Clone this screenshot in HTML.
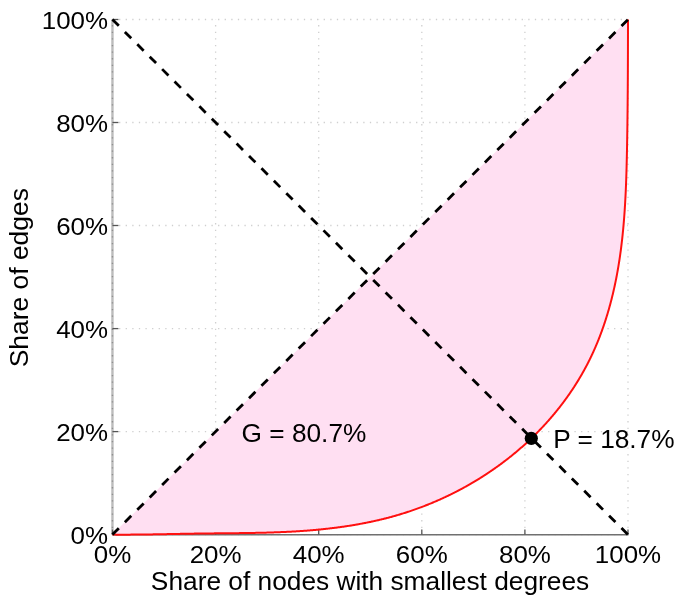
<!DOCTYPE html>
<html><head><meta charset="utf-8"><style>
html,body{margin:0;padding:0;background:#fff;}
svg{display:block;will-change:transform;}
text{font-family:"Liberation Sans",sans-serif;font-size:24px;fill:#000;}
</style></head><body>
<svg width="683" height="600" viewBox="0 0 683 600">
<rect width="683" height="600" fill="#fff"/>
<g stroke="#cfcfcf" stroke-width="1.3" stroke-dasharray="1.3,5.3" fill="none">
<line x1="112.5" y1="534.6" x2="112.5" y2="19.5"/><line x1="112.45" y1="534.6" x2="628.0" y2="534.6"/><line x1="215.6" y1="534.6" x2="215.6" y2="19.5"/><line x1="112.45" y1="431.6" x2="628.0" y2="431.6"/><line x1="318.7" y1="534.6" x2="318.7" y2="19.5"/><line x1="112.45" y1="328.6" x2="628.0" y2="328.6"/><line x1="421.8" y1="534.6" x2="421.8" y2="19.5"/><line x1="112.45" y1="225.5" x2="628.0" y2="225.5"/><line x1="524.9" y1="534.6" x2="524.9" y2="19.5"/><line x1="112.45" y1="122.5" x2="628.0" y2="122.5"/><line x1="628.0" y1="534.6" x2="628.0" y2="19.5"/><line x1="112.45" y1="19.5" x2="628.0" y2="19.5"/>
</g>
<line x1="112.45" y1="534.6" x2="112.45" y2="19.5" stroke="#bcbcbc" stroke-width="2.4"/>
<line x1="112.45" y1="534.6" x2="112.45" y2="19.5" stroke="#909090" stroke-width="1.3" stroke-dasharray="1.3,5.3"/>
<line x1="112.45" y1="534.75" x2="628.5" y2="534.75" stroke="#707070" stroke-width="1.5"/>
<g stroke="#555" stroke-width="1.3"><line x1="112.5" y1="534.6" x2="112.5" y2="529.6"/><line x1="112.45" y1="534.6" x2="118.45" y2="534.6"/><line x1="215.6" y1="534.6" x2="215.6" y2="529.6"/><line x1="112.45" y1="431.6" x2="118.45" y2="431.6"/><line x1="318.7" y1="534.6" x2="318.7" y2="529.6"/><line x1="112.45" y1="328.6" x2="118.45" y2="328.6"/><line x1="421.8" y1="534.6" x2="421.8" y2="529.6"/><line x1="112.45" y1="225.5" x2="118.45" y2="225.5"/><line x1="524.9" y1="534.6" x2="524.9" y2="529.6"/><line x1="112.45" y1="122.5" x2="118.45" y2="122.5"/><line x1="628.0" y1="534.6" x2="628.0" y2="529.6"/><line x1="112.45" y1="19.5" x2="118.45" y2="19.5"/></g>
<path d="M112.45,534.60 L113.19,534.61 L113.93,534.61 L114.67,534.62 L115.41,534.62 L116.15,534.63 L116.89,534.63 L117.63,534.64 L118.37,534.64 L119.11,534.64 L119.84,534.64 L120.58,534.64 L121.32,534.65 L122.06,534.65 L122.80,534.65 L123.54,534.65 L124.28,534.65 L125.02,534.65 L125.76,534.64 L126.50,534.64 L127.24,534.64 L127.97,534.64 L128.71,534.64 L129.45,534.63 L130.19,534.63 L130.93,534.62 L131.67,534.62 L132.41,534.62 L133.15,534.61 L133.89,534.61 L134.62,534.60 L135.36,534.59 L136.10,534.59 L136.84,534.58 L137.58,534.57 L138.32,534.57 L139.06,534.56 L139.79,534.55 L140.53,534.54 L141.27,534.54 L142.01,534.53 L142.75,534.52 L143.49,534.51 L144.23,534.50 L144.96,534.49 L145.70,534.48 L146.44,534.47 L147.18,534.46 L147.92,534.45 L148.66,534.44 L149.40,534.43 L150.13,534.42 L150.87,534.40 L151.61,534.39 L152.35,534.38 L153.09,534.37 L153.83,534.36 L154.56,534.35 L155.30,534.33 L156.04,534.32 L156.78,534.31 L157.52,534.30 L158.26,534.28 L158.99,534.27 L159.73,534.26 L160.47,534.24 L161.21,534.23 L161.95,534.22 L162.69,534.20 L163.42,534.19 L164.16,534.18 L164.90,534.16 L165.64,534.15 L166.38,534.13 L167.12,534.12 L167.85,534.11 L168.59,534.09 L169.33,534.08 L170.07,534.06 L170.81,534.05 L171.55,534.04 L172.28,534.02 L173.02,534.01 L173.76,533.99 L174.50,533.98 L175.24,533.96 L175.98,533.95 L176.72,533.94 L177.45,533.92 L178.19,533.91 L178.93,533.89 L179.67,533.88 L180.41,533.87 L181.15,533.85 L181.88,533.84 L182.62,533.82 L183.36,533.81 L184.10,533.80 L184.84,533.78 L185.58,533.77 L186.32,533.76 L187.05,533.74 L187.79,533.73 L188.53,533.72 L189.27,533.70 L190.01,533.69 L190.75,533.68 L191.49,533.67 L192.22,533.65 L192.96,533.64 L193.70,533.63 L194.44,533.62 L195.18,533.61 L195.92,533.60 L196.66,533.58 L197.40,533.57 L198.14,533.56 L198.87,533.55 L199.61,533.54 L200.35,533.53 L201.09,533.52 L201.83,533.51 L202.57,533.50 L203.31,533.49 L204.05,533.48 L204.79,533.48 L205.53,533.47 L206.27,533.46 L207.00,533.45 L207.74,533.44 L208.48,533.43 L209.22,533.42 L209.96,533.42 L210.70,533.41 L211.44,533.40 L212.18,533.39 L212.92,533.39 L213.66,533.38 L214.40,533.37 L215.14,533.36 L215.88,533.36 L216.62,533.35 L217.35,533.34 L218.09,533.34 L218.83,533.33 L219.57,533.32 L220.31,533.32 L221.05,533.31 L221.79,533.30 L222.53,533.30 L223.27,533.29 L224.01,533.28 L224.75,533.28 L225.49,533.27 L226.23,533.26 L226.97,533.25 L227.71,533.25 L228.45,533.24 L229.19,533.23 L229.93,533.23 L230.67,533.22 L231.41,533.21 L232.15,533.20 L232.89,533.20 L233.63,533.19 L234.36,533.18 L235.10,533.17 L235.84,533.16 L236.58,533.16 L237.32,533.15 L238.06,533.14 L238.80,533.13 L239.54,533.12 L240.28,533.11 L241.02,533.10 L241.76,533.09 L242.50,533.08 L243.24,533.07 L243.98,533.06 L244.72,533.05 L245.46,533.04 L246.20,533.03 L246.94,533.02 L247.68,533.01 L248.42,533.00 L249.16,532.99 L249.90,532.98 L250.64,532.96 L251.38,532.95 L252.12,532.94 L252.86,532.92 L253.59,532.91 L254.33,532.90 L255.07,532.88 L255.81,532.87 L256.55,532.85 L257.29,532.84 L258.03,532.82 L258.77,532.81 L259.51,532.79 L260.25,532.77 L260.99,532.76 L261.73,532.74 L262.47,532.72 L263.21,532.70 L263.95,532.68 L264.69,532.67 L265.43,532.65 L266.17,532.63 L266.90,532.61 L267.64,532.58 L268.38,532.56 L269.12,532.54 L269.86,532.52 L270.60,532.50 L271.34,532.47 L272.08,532.45 L272.82,532.42 L273.56,532.40 L274.30,532.37 L275.04,532.35 L275.77,532.32 L276.51,532.30 L277.25,532.27 L277.99,532.24 L278.73,532.21 L279.47,532.18 L280.21,532.15 L280.95,532.12 L281.69,532.09 L282.42,532.06 L283.16,532.03 L283.90,531.99 L284.64,531.96 L285.38,531.93 L286.12,531.89 L286.86,531.86 L287.60,531.82 L288.33,531.78 L289.07,531.75 L289.81,531.71 L290.55,531.67 L291.29,531.63 L292.03,531.59 L292.76,531.55 L293.50,531.51 L294.24,531.46 L294.98,531.42 L295.72,531.38 L296.46,531.33 L297.19,531.29 L297.93,531.24 L298.67,531.20 L299.41,531.15 L300.15,531.10 L300.88,531.05 L301.62,531.00 L302.36,530.95 L303.10,530.90 L303.83,530.84 L304.57,530.79 L305.31,530.74 L306.05,530.68 L306.78,530.63 L307.52,530.57 L308.26,530.51 L309.00,530.45 L309.73,530.40 L310.47,530.34 L311.21,530.27 L311.94,530.21 L312.68,530.15 L313.42,530.09 L314.16,530.02 L314.89,529.96 L315.63,529.89 L316.36,529.82 L317.10,529.75 L317.84,529.69 L318.57,529.62 L319.31,529.54 L320.05,529.47 L320.78,529.40 L321.52,529.33 L322.25,529.25 L322.99,529.18 L323.72,529.10 L324.46,529.02 L325.19,528.94 L325.93,528.86 L326.66,528.78 L327.40,528.70 L328.13,528.62 L328.87,528.53 L329.60,528.45 L330.33,528.36 L331.07,528.28 L331.80,528.19 L332.53,528.10 L333.27,528.01 L334.00,527.92 L334.73,527.83 L335.47,527.73 L336.20,527.64 L336.93,527.55 L337.66,527.45 L338.40,527.35 L339.13,527.25 L339.86,527.15 L340.59,527.05 L341.32,526.95 L342.06,526.85 L342.79,526.74 L343.52,526.64 L344.25,526.53 L344.98,526.43 L345.71,526.32 L346.44,526.21 L347.17,526.10 L347.90,525.98 L348.63,525.87 L349.36,525.76 L350.08,525.64 L350.81,525.52 L351.54,525.41 L352.27,525.29 L353.00,525.17 L353.73,525.04 L354.45,524.92 L355.18,524.80 L355.91,524.67 L356.63,524.55 L357.36,524.42 L358.09,524.29 L358.81,524.16 L359.54,524.03 L360.26,523.89 L360.99,523.76 L361.71,523.63 L362.44,523.49 L363.16,523.35 L363.89,523.21 L364.61,523.07 L365.33,522.93 L366.06,522.79 L366.78,522.64 L367.50,522.50 L368.23,522.35 L368.95,522.20 L369.67,522.05 L370.39,521.90 L371.11,521.75 L371.83,521.59 L372.55,521.44 L373.27,521.28 L373.99,521.12 L374.71,520.96 L375.43,520.80 L376.15,520.64 L376.87,520.48 L377.59,520.31 L378.31,520.15 L379.02,519.98 L379.74,519.81 L380.46,519.64 L381.17,519.47 L381.89,519.29 L382.61,519.12 L383.32,518.94 L384.04,518.77 L384.75,518.59 L385.47,518.41 L386.18,518.22 L386.90,518.04 L387.61,517.85 L388.32,517.67 L389.03,517.48 L389.75,517.29 L390.46,517.10 L391.17,516.91 L391.88,516.71 L392.59,516.52 L393.30,516.32 L394.01,516.12 L394.72,515.92 L395.43,515.72 L396.14,515.52 L396.85,515.31 L397.56,515.10 L398.26,514.90 L398.97,514.69 L399.68,514.48 L400.38,514.26 L401.09,514.05 L401.80,513.83 L402.50,513.61 L403.20,513.40 L403.91,513.17 L404.61,512.95 L405.32,512.73 L406.02,512.50 L406.72,512.28 L407.42,512.05 L408.12,511.82 L408.83,511.59 L409.53,511.35 L410.23,511.12 L410.93,510.88 L411.63,510.64 L412.32,510.40 L413.02,510.16 L413.72,509.92 L414.42,509.67 L415.11,509.43 L415.81,509.18 L416.51,508.93 L417.20,508.68 L417.89,508.43 L418.59,508.18 L419.28,507.92 L419.98,507.66 L420.67,507.41 L421.36,507.15 L422.05,506.88 L422.74,506.62 L423.43,506.36 L424.12,506.09 L424.81,505.82 L425.50,505.55 L426.19,505.28 L426.88,505.01 L427.56,504.74 L428.25,504.46 L428.94,504.19 L429.62,503.91 L430.31,503.63 L430.99,503.35 L431.67,503.06 L432.36,502.78 L433.04,502.49 L433.72,502.20 L434.40,501.92 L435.08,501.63 L435.76,501.33 L436.44,501.04 L437.12,500.74 L437.80,500.45 L438.47,500.15 L439.15,499.85 L439.83,499.55 L440.50,499.25 L441.18,498.94 L441.85,498.64 L442.52,498.33 L443.20,498.02 L443.87,497.71 L444.54,497.40 L445.21,497.09 L445.88,496.77 L446.55,496.46 L447.22,496.14 L447.89,495.82 L448.55,495.50 L449.22,495.18 L449.88,494.85 L450.55,494.53 L451.21,494.20 L451.88,493.87 L452.54,493.54 L453.20,493.21 L453.86,492.88 L454.53,492.55 L455.19,492.21 L455.84,491.87 L456.50,491.54 L457.16,491.20 L457.82,490.85 L458.47,490.51 L459.13,490.17 L459.78,489.82 L460.44,489.47 L461.09,489.13 L461.74,488.78 L462.40,488.42 L463.05,488.07 L463.70,487.72 L464.35,487.36 L464.99,487.00 L465.64,486.64 L466.29,486.28 L466.93,485.92 L467.58,485.56 L468.22,485.19 L468.87,484.83 L469.51,484.46 L470.15,484.09 L470.79,483.72 L471.43,483.35 L472.07,482.98 L472.71,482.60 L473.35,482.23 L473.99,481.85 L474.62,481.47 L475.26,481.09 L475.89,480.71 L476.53,480.32 L477.16,479.94 L477.79,479.55 L478.42,479.17 L479.05,478.78 L479.68,478.39 L480.31,477.99 L480.93,477.60 L481.56,477.21 L482.19,476.81 L482.81,476.41 L483.43,476.01 L484.06,475.61 L484.68,475.21 L485.30,474.81 L485.92,474.40 L486.54,474.00 L487.16,473.59 L487.77,473.18 L488.39,472.77 L489.00,472.36 L489.62,471.95 L490.23,471.53 L490.84,471.12 L491.46,470.70 L492.07,470.28 L492.68,469.86 L493.28,469.44 L493.89,469.02 L494.50,468.59 L495.10,468.17 L495.71,467.74 L496.31,467.31 L496.91,466.88 L497.51,466.45 L498.11,466.02 L498.71,465.59 L499.31,465.15 L499.91,464.72 L500.51,464.28 L501.10,463.84 L501.70,463.40 L502.29,462.96 L502.88,462.51 L503.47,462.07 L504.06,461.62 L504.65,461.17 L505.24,460.73 L505.83,460.28 L506.41,459.82 L507.00,459.37 L507.58,458.92 L508.16,458.46 L508.74,458.00 L509.33,457.55 L509.90,457.09 L510.48,456.63 L511.06,456.16 L511.64,455.70 L512.21,455.23 L512.78,454.77 L513.36,454.30 L513.93,453.83 L514.50,453.36 L515.07,452.89 L515.64,452.42 L516.20,451.94 L516.77,451.47 L517.34,450.99 L517.90,450.51 L518.46,450.03 L519.02,449.55 L519.58,449.07 L520.14,448.59 L520.70,448.10 L521.26,447.61 L521.81,447.13 L522.37,446.64 L522.92,446.15 L523.47,445.66 L524.02,445.16 L524.57,444.67 L525.12,444.17 L525.67,443.68 L526.21,443.18 L526.76,442.68 L527.30,442.18 L527.84,441.68 L528.38,441.17 L528.92,440.67 L529.46,440.16 L530.00,439.66 L530.54,439.15 L531.07,438.64 L531.61,438.13 L532.14,437.61 L532.67,437.10 L533.20,436.59 L533.73,436.07 L534.25,435.55 L534.78,435.03 L535.31,434.51 L535.83,433.99 L536.35,433.47 L536.87,432.95 L537.39,432.42 L537.91,431.89 L538.43,431.37 L538.94,430.84 L539.46,430.31 L539.97,429.78 L540.48,429.24 L540.99,428.71 L541.50,428.17 L542.01,427.64 L542.52,427.10 L543.02,426.56 L543.53,426.02 L544.03,425.48 L544.53,424.94 L545.03,424.39 L545.53,423.85 L546.02,423.30 L546.52,422.75 L547.01,422.20 L547.51,421.65 L548.00,421.10 L548.49,420.55 L548.98,420.00 L549.46,419.44 L549.95,418.88 L550.43,418.33 L550.92,417.77 L551.40,417.21 L551.88,416.65 L552.36,416.08 L552.84,415.52 L553.31,414.96 L553.79,414.39 L554.26,413.82 L554.73,413.25 L555.20,412.68 L555.67,412.11 L556.14,411.54 L556.60,410.97 L557.07,410.40 L557.53,409.82 L557.99,409.24 L558.45,408.67 L558.91,408.09 L559.37,407.51 L559.82,406.93 L560.28,406.34 L560.73,405.76 L561.18,405.17 L561.63,404.59 L562.08,404.00 L562.52,403.41 L562.97,402.82 L563.41,402.23 L563.85,401.64 L564.29,401.05 L564.73,400.46 L565.17,399.86 L565.60,399.27 L566.04,398.67 L566.47,398.07 L566.90,397.47 L567.33,396.87 L567.76,396.27 L568.18,395.67 L568.61,395.06 L569.03,394.46 L569.45,393.85 L569.87,393.24 L570.29,392.64 L570.70,392.03 L571.12,391.42 L571.53,390.81 L571.94,390.19 L572.35,389.58 L572.76,388.96 L573.17,388.35 L573.57,387.73 L573.97,387.11 L574.38,386.50 L574.77,385.88 L575.17,385.25 L575.57,384.63 L575.96,384.01 L576.36,383.38 L576.75,382.76 L577.14,382.13 L577.53,381.51 L577.91,380.88 L578.30,380.25 L578.68,379.62 L579.06,378.99 L579.44,378.35 L579.82,377.72 L580.19,377.09 L580.57,376.45 L580.94,375.81 L581.31,375.18 L581.68,374.54 L582.05,373.90 L582.41,373.26 L582.78,372.62 L583.14,371.97 L583.50,371.33 L583.86,370.68 L584.21,370.04 L584.57,369.39 L584.92,368.74 L585.27,368.10 L585.62,367.45 L585.97,366.80 L586.31,366.14 L586.66,365.49 L587.00,364.84 L587.34,364.18 L587.68,363.53 L588.02,362.87 L588.35,362.21 L588.68,361.56 L589.01,360.90 L589.34,360.24 L589.67,359.58 L590.00,358.91 L590.32,358.25 L590.64,357.59 L590.96,356.92 L591.28,356.26 L591.60,355.59 L591.91,354.92 L592.22,354.25 L592.53,353.58 L592.84,352.91 L593.15,352.24 L593.46,351.57 L593.76,350.90 L594.06,350.22 L594.36,349.55 L594.66,348.87 L594.96,348.20 L595.25,347.52 L595.54,346.84 L595.83,346.16 L596.12,345.48 L596.41,344.80 L596.70,344.12 L596.98,343.44 L597.26,342.76 L597.54,342.07 L597.82,341.39 L598.10,340.71 L598.38,340.02 L598.65,339.33 L598.92,338.65 L599.19,337.96 L599.46,337.27 L599.73,336.58 L599.99,335.89 L600.25,335.20 L600.52,334.51 L600.78,333.82 L601.03,333.12 L601.29,332.43 L601.55,331.73 L601.80,331.04 L602.05,330.34 L602.30,329.65 L602.55,328.95 L602.80,328.25 L603.04,327.55 L603.29,326.86 L603.53,326.16 L603.77,325.46 L604.01,324.76 L604.24,324.05 L604.48,323.35 L604.71,322.65 L604.94,321.95 L605.17,321.24 L605.40,320.54 L605.63,319.83 L605.86,319.13 L606.08,318.42 L606.30,317.72 L606.52,317.01 L606.74,316.30 L606.96,315.59 L607.18,314.89 L607.39,314.18 L607.61,313.47 L607.82,312.76 L608.03,312.05 L608.24,311.34 L608.44,310.63 L608.65,309.91 L608.85,309.20 L609.06,308.49 L609.26,307.78 L609.46,307.06 L609.65,306.35 L609.85,305.63 L610.04,304.92 L610.24,304.20 L610.43,303.49 L610.62,302.77 L610.81,302.05 L611.00,301.34 L611.18,300.62 L611.37,299.90 L611.55,299.18 L611.73,298.47 L611.91,297.75 L612.09,297.03 L612.27,296.31 L612.45,295.59 L612.62,294.87 L612.79,294.15 L612.96,293.43 L613.13,292.71 L613.30,291.99 L613.47,291.26 L613.64,290.54 L613.80,289.82 L613.96,289.10 L614.13,288.37 L614.29,287.65 L614.45,286.93 L614.60,286.20 L614.76,285.48 L614.92,284.76 L615.07,284.03 L615.22,283.31 L615.37,282.58 L615.52,281.86 L615.67,281.13 L615.82,280.41 L615.96,279.68 L616.11,278.96 L616.25,278.23 L616.39,277.51 L616.53,276.78 L616.67,276.05 L616.81,275.33 L616.94,274.60 L617.08,273.87 L617.21,273.15 L617.35,272.42 L617.48,271.69 L617.61,270.97 L617.74,270.24 L617.86,269.51 L617.99,268.78 L618.12,268.05 L618.24,267.33 L618.36,266.60 L618.48,265.87 L618.60,265.14 L618.72,264.41 L618.84,263.68 L618.96,262.95 L619.07,262.22 L619.19,261.49 L619.30,260.76 L619.41,260.03 L619.52,259.30 L619.63,258.57 L619.74,257.84 L619.85,257.11 L619.96,256.38 L620.06,255.65 L620.17,254.92 L620.27,254.19 L620.37,253.46 L620.47,252.73 L620.57,252.00 L620.67,251.27 L620.77,250.53 L620.86,249.80 L620.96,249.07 L621.06,248.34 L621.15,247.61 L621.24,246.87 L621.33,246.14 L621.42,245.41 L621.51,244.68 L621.60,243.94 L621.69,243.21 L621.77,242.48 L621.86,241.74 L621.94,241.01 L622.03,240.28 L622.11,239.54 L622.19,238.81 L622.27,238.08 L622.35,237.34 L622.43,236.61 L622.51,235.87 L622.59,235.14 L622.66,234.41 L622.74,233.67 L622.81,232.94 L622.88,232.20 L622.96,231.47 L623.03,230.73 L623.10,230.00 L623.17,229.26 L623.24,228.53 L623.30,227.79 L623.37,227.06 L623.44,226.32 L623.50,225.59 L623.57,224.85 L623.63,224.12 L623.69,223.38 L623.76,222.64 L623.82,221.91 L623.88,221.17 L623.94,220.44 L624.00,219.70 L624.05,218.96 L624.11,218.23 L624.17,217.49 L624.22,216.75 L624.28,216.02 L624.33,215.28 L624.39,214.54 L624.44,213.81 L624.49,213.07 L624.54,212.33 L624.60,211.59 L624.65,210.86 L624.69,210.12 L624.74,209.38 L624.79,208.65 L624.84,207.91 L624.88,207.17 L624.93,206.43 L624.98,205.70 L625.02,204.96 L625.06,204.22 L625.11,203.48 L625.15,202.74 L625.19,202.01 L625.23,201.27 L625.27,200.53 L625.31,199.79 L625.35,199.05 L625.39,198.32 L625.43,197.58 L625.47,196.84 L625.51,196.10 L625.54,195.36 L625.58,194.62 L625.62,193.88 L625.65,193.15 L625.69,192.41 L625.72,191.67 L625.75,190.93 L625.79,190.19 L625.82,189.45 L625.85,188.71 L625.88,187.97 L625.91,187.24 L625.94,186.50 L625.97,185.76 L626.00,185.02 L626.03,184.28 L626.06,183.54 L626.09,182.80 L626.12,182.06 L626.14,181.32 L626.17,180.58 L626.20,179.85 L626.22,179.11 L626.25,178.37 L626.27,177.63 L626.30,176.89 L626.32,176.15 L626.35,175.41 L626.37,174.67 L626.39,173.93 L626.42,173.19 L626.44,172.45 L626.46,171.71 L626.48,170.97 L626.50,170.23 L626.52,169.49 L626.54,168.76 L626.57,168.02 L626.59,167.28 L626.61,166.54 L626.62,165.80 L626.64,165.06 L626.66,164.32 L626.68,163.58 L626.70,162.84 L626.72,162.10 L626.74,161.36 L626.75,160.62 L626.77,159.88 L626.79,159.14 L626.81,158.40 L626.82,157.66 L626.84,156.92 L626.85,156.19 L626.87,155.45 L626.89,154.71 L626.90,153.97 L626.92,153.23 L626.93,152.49 L626.95,151.75 L626.96,151.01 L626.98,150.27 L626.99,149.53 L627.01,148.79 L627.02,148.05 L627.04,147.31 L627.05,146.58 L627.06,145.84 L627.08,145.10 L627.09,144.36 L627.10,143.62 L627.12,142.88 L627.13,142.14 L627.14,141.40 L627.16,140.66 L627.17,139.92 L627.18,139.19 L627.19,138.45 L627.21,137.71 L627.22,136.97 L627.23,136.23 L627.24,135.49 L627.25,134.75 L627.27,134.01 L627.28,133.28 L627.29,132.54 L627.30,131.80 L627.31,131.06 L627.32,130.32 L627.33,129.58 L627.34,128.84 L627.35,128.10 L627.37,127.37 L627.38,126.63 L627.39,125.89 L627.40,125.15 L627.41,124.41 L627.42,123.67 L627.43,122.93 L627.44,122.20 L627.45,121.46 L627.45,120.72 L627.46,119.98 L627.47,119.24 L627.48,118.50 L627.49,117.76 L627.50,117.03 L627.51,116.29 L627.52,115.55 L627.53,114.81 L627.53,114.07 L627.54,113.33 L627.55,112.60 L627.56,111.86 L627.57,111.12 L627.57,110.38 L627.58,109.64 L627.59,108.90 L627.60,108.16 L627.60,107.43 L627.61,106.69 L627.62,105.95 L627.63,105.21 L627.63,104.47 L627.64,103.73 L627.65,103.00 L627.65,102.26 L627.66,101.52 L627.67,100.78 L627.67,100.04 L627.68,99.30 L627.69,98.57 L627.69,97.83 L627.70,97.09 L627.70,96.35 L627.71,95.61 L627.72,94.87 L627.72,94.14 L627.73,93.40 L627.73,92.66 L627.74,91.92 L627.74,91.18 L627.75,90.44 L627.75,89.71 L627.76,88.97 L627.77,88.23 L627.77,87.49 L627.77,86.75 L627.78,86.01 L627.78,85.28 L627.79,84.54 L627.79,83.80 L627.80,83.06 L627.80,82.32 L627.81,81.58 L627.81,80.85 L627.82,80.11 L627.82,79.37 L627.82,78.63 L627.83,77.89 L627.83,77.15 L627.84,76.41 L627.84,75.68 L627.84,74.94 L627.85,74.20 L627.85,73.46 L627.85,72.72 L627.86,71.98 L627.86,71.25 L627.86,70.51 L627.87,69.77 L627.87,69.03 L627.87,68.29 L627.88,67.55 L627.88,66.81 L627.88,66.07 L627.89,65.34 L627.89,64.60 L627.89,63.86 L627.90,63.12 L627.90,62.38 L627.90,61.64 L627.90,60.90 L627.91,60.17 L627.91,59.43 L627.91,58.69 L627.91,57.95 L627.92,57.21 L627.92,56.47 L627.92,55.73 L627.92,54.99 L627.93,54.25 L627.93,53.52 L627.93,52.78 L627.93,52.04 L627.93,51.30 L627.94,50.56 L627.94,49.82 L627.94,49.08 L627.94,48.34 L627.94,47.60 L627.95,46.86 L627.95,46.13 L627.95,45.39 L627.95,44.65 L627.95,43.91 L627.96,43.17 L627.96,42.43 L627.96,41.69 L627.96,40.95 L627.96,40.21 L627.96,39.47 L627.97,38.73 L627.97,37.99 L627.97,37.25 L627.97,36.52 L627.97,35.78 L627.97,35.04 L627.97,34.30 L627.98,33.56 L627.98,32.82 L627.98,32.08 L627.98,31.34 L627.98,30.60 L627.98,29.86 L627.98,29.12 L627.99,28.38 L627.99,27.64 L627.99,26.90 L627.99,26.16 L627.99,25.42 L627.99,24.68 L627.99,23.94 L627.99,23.20 L628.00,22.46 L628.00,21.72 L628.00,20.98 L628.00,20.24 L628.00,19.50 Z" fill="#ffdff2" stroke="none"/>
<path d="M112.45,534.60 L113.19,534.61 L113.93,534.61 L114.67,534.62 L115.41,534.62 L116.15,534.63 L116.89,534.63 L117.63,534.64 L118.37,534.64 L119.11,534.64 L119.84,534.64 L120.58,534.64 L121.32,534.65 L122.06,534.65 L122.80,534.65 L123.54,534.65 L124.28,534.65 L125.02,534.65 L125.76,534.64 L126.50,534.64 L127.24,534.64 L127.97,534.64 L128.71,534.64 L129.45,534.63 L130.19,534.63 L130.93,534.62 L131.67,534.62 L132.41,534.62 L133.15,534.61 L133.89,534.61 L134.62,534.60 L135.36,534.59 L136.10,534.59 L136.84,534.58 L137.58,534.57 L138.32,534.57 L139.06,534.56 L139.79,534.55 L140.53,534.54 L141.27,534.54 L142.01,534.53 L142.75,534.52 L143.49,534.51 L144.23,534.50 L144.96,534.49 L145.70,534.48 L146.44,534.47 L147.18,534.46 L147.92,534.45 L148.66,534.44 L149.40,534.43 L150.13,534.42 L150.87,534.40 L151.61,534.39 L152.35,534.38 L153.09,534.37 L153.83,534.36 L154.56,534.35 L155.30,534.33 L156.04,534.32 L156.78,534.31 L157.52,534.30 L158.26,534.28 L158.99,534.27 L159.73,534.26 L160.47,534.24 L161.21,534.23 L161.95,534.22 L162.69,534.20 L163.42,534.19 L164.16,534.18 L164.90,534.16 L165.64,534.15 L166.38,534.13 L167.12,534.12 L167.85,534.11 L168.59,534.09 L169.33,534.08 L170.07,534.06 L170.81,534.05 L171.55,534.04 L172.28,534.02 L173.02,534.01 L173.76,533.99 L174.50,533.98 L175.24,533.96 L175.98,533.95 L176.72,533.94 L177.45,533.92 L178.19,533.91 L178.93,533.89 L179.67,533.88 L180.41,533.87 L181.15,533.85 L181.88,533.84 L182.62,533.82 L183.36,533.81 L184.10,533.80 L184.84,533.78 L185.58,533.77 L186.32,533.76 L187.05,533.74 L187.79,533.73 L188.53,533.72 L189.27,533.70 L190.01,533.69 L190.75,533.68 L191.49,533.67 L192.22,533.65 L192.96,533.64 L193.70,533.63 L194.44,533.62 L195.18,533.61 L195.92,533.60 L196.66,533.58 L197.40,533.57 L198.14,533.56 L198.87,533.55 L199.61,533.54 L200.35,533.53 L201.09,533.52 L201.83,533.51 L202.57,533.50 L203.31,533.49 L204.05,533.48 L204.79,533.48 L205.53,533.47 L206.27,533.46 L207.00,533.45 L207.74,533.44 L208.48,533.43 L209.22,533.42 L209.96,533.42 L210.70,533.41 L211.44,533.40 L212.18,533.39 L212.92,533.39 L213.66,533.38 L214.40,533.37 L215.14,533.36 L215.88,533.36 L216.62,533.35 L217.35,533.34 L218.09,533.34 L218.83,533.33 L219.57,533.32 L220.31,533.32 L221.05,533.31 L221.79,533.30 L222.53,533.30 L223.27,533.29 L224.01,533.28 L224.75,533.28 L225.49,533.27 L226.23,533.26 L226.97,533.25 L227.71,533.25 L228.45,533.24 L229.19,533.23 L229.93,533.23 L230.67,533.22 L231.41,533.21 L232.15,533.20 L232.89,533.20 L233.63,533.19 L234.36,533.18 L235.10,533.17 L235.84,533.16 L236.58,533.16 L237.32,533.15 L238.06,533.14 L238.80,533.13 L239.54,533.12 L240.28,533.11 L241.02,533.10 L241.76,533.09 L242.50,533.08 L243.24,533.07 L243.98,533.06 L244.72,533.05 L245.46,533.04 L246.20,533.03 L246.94,533.02 L247.68,533.01 L248.42,533.00 L249.16,532.99 L249.90,532.98 L250.64,532.96 L251.38,532.95 L252.12,532.94 L252.86,532.92 L253.59,532.91 L254.33,532.90 L255.07,532.88 L255.81,532.87 L256.55,532.85 L257.29,532.84 L258.03,532.82 L258.77,532.81 L259.51,532.79 L260.25,532.77 L260.99,532.76 L261.73,532.74 L262.47,532.72 L263.21,532.70 L263.95,532.68 L264.69,532.67 L265.43,532.65 L266.17,532.63 L266.90,532.61 L267.64,532.58 L268.38,532.56 L269.12,532.54 L269.86,532.52 L270.60,532.50 L271.34,532.47 L272.08,532.45 L272.82,532.42 L273.56,532.40 L274.30,532.37 L275.04,532.35 L275.77,532.32 L276.51,532.30 L277.25,532.27 L277.99,532.24 L278.73,532.21 L279.47,532.18 L280.21,532.15 L280.95,532.12 L281.69,532.09 L282.42,532.06 L283.16,532.03 L283.90,531.99 L284.64,531.96 L285.38,531.93 L286.12,531.89 L286.86,531.86 L287.60,531.82 L288.33,531.78 L289.07,531.75 L289.81,531.71 L290.55,531.67 L291.29,531.63 L292.03,531.59 L292.76,531.55 L293.50,531.51 L294.24,531.46 L294.98,531.42 L295.72,531.38 L296.46,531.33 L297.19,531.29 L297.93,531.24 L298.67,531.20 L299.41,531.15 L300.15,531.10 L300.88,531.05 L301.62,531.00 L302.36,530.95 L303.10,530.90 L303.83,530.84 L304.57,530.79 L305.31,530.74 L306.05,530.68 L306.78,530.63 L307.52,530.57 L308.26,530.51 L309.00,530.45 L309.73,530.40 L310.47,530.34 L311.21,530.27 L311.94,530.21 L312.68,530.15 L313.42,530.09 L314.16,530.02 L314.89,529.96 L315.63,529.89 L316.36,529.82 L317.10,529.75 L317.84,529.69 L318.57,529.62 L319.31,529.54 L320.05,529.47 L320.78,529.40 L321.52,529.33 L322.25,529.25 L322.99,529.18 L323.72,529.10 L324.46,529.02 L325.19,528.94 L325.93,528.86 L326.66,528.78 L327.40,528.70 L328.13,528.62 L328.87,528.53 L329.60,528.45 L330.33,528.36 L331.07,528.28 L331.80,528.19 L332.53,528.10 L333.27,528.01 L334.00,527.92 L334.73,527.83 L335.47,527.73 L336.20,527.64 L336.93,527.55 L337.66,527.45 L338.40,527.35 L339.13,527.25 L339.86,527.15 L340.59,527.05 L341.32,526.95 L342.06,526.85 L342.79,526.74 L343.52,526.64 L344.25,526.53 L344.98,526.43 L345.71,526.32 L346.44,526.21 L347.17,526.10 L347.90,525.98 L348.63,525.87 L349.36,525.76 L350.08,525.64 L350.81,525.52 L351.54,525.41 L352.27,525.29 L353.00,525.17 L353.73,525.04 L354.45,524.92 L355.18,524.80 L355.91,524.67 L356.63,524.55 L357.36,524.42 L358.09,524.29 L358.81,524.16 L359.54,524.03 L360.26,523.89 L360.99,523.76 L361.71,523.63 L362.44,523.49 L363.16,523.35 L363.89,523.21 L364.61,523.07 L365.33,522.93 L366.06,522.79 L366.78,522.64 L367.50,522.50 L368.23,522.35 L368.95,522.20 L369.67,522.05 L370.39,521.90 L371.11,521.75 L371.83,521.59 L372.55,521.44 L373.27,521.28 L373.99,521.12 L374.71,520.96 L375.43,520.80 L376.15,520.64 L376.87,520.48 L377.59,520.31 L378.31,520.15 L379.02,519.98 L379.74,519.81 L380.46,519.64 L381.17,519.47 L381.89,519.29 L382.61,519.12 L383.32,518.94 L384.04,518.77 L384.75,518.59 L385.47,518.41 L386.18,518.22 L386.90,518.04 L387.61,517.85 L388.32,517.67 L389.03,517.48 L389.75,517.29 L390.46,517.10 L391.17,516.91 L391.88,516.71 L392.59,516.52 L393.30,516.32 L394.01,516.12 L394.72,515.92 L395.43,515.72 L396.14,515.52 L396.85,515.31 L397.56,515.10 L398.26,514.90 L398.97,514.69 L399.68,514.48 L400.38,514.26 L401.09,514.05 L401.80,513.83 L402.50,513.61 L403.20,513.40 L403.91,513.17 L404.61,512.95 L405.32,512.73 L406.02,512.50 L406.72,512.28 L407.42,512.05 L408.12,511.82 L408.83,511.59 L409.53,511.35 L410.23,511.12 L410.93,510.88 L411.63,510.64 L412.32,510.40 L413.02,510.16 L413.72,509.92 L414.42,509.67 L415.11,509.43 L415.81,509.18 L416.51,508.93 L417.20,508.68 L417.89,508.43 L418.59,508.18 L419.28,507.92 L419.98,507.66 L420.67,507.41 L421.36,507.15 L422.05,506.88 L422.74,506.62 L423.43,506.36 L424.12,506.09 L424.81,505.82 L425.50,505.55 L426.19,505.28 L426.88,505.01 L427.56,504.74 L428.25,504.46 L428.94,504.19 L429.62,503.91 L430.31,503.63 L430.99,503.35 L431.67,503.06 L432.36,502.78 L433.04,502.49 L433.72,502.20 L434.40,501.92 L435.08,501.63 L435.76,501.33 L436.44,501.04 L437.12,500.74 L437.80,500.45 L438.47,500.15 L439.15,499.85 L439.83,499.55 L440.50,499.25 L441.18,498.94 L441.85,498.64 L442.52,498.33 L443.20,498.02 L443.87,497.71 L444.54,497.40 L445.21,497.09 L445.88,496.77 L446.55,496.46 L447.22,496.14 L447.89,495.82 L448.55,495.50 L449.22,495.18 L449.88,494.85 L450.55,494.53 L451.21,494.20 L451.88,493.87 L452.54,493.54 L453.20,493.21 L453.86,492.88 L454.53,492.55 L455.19,492.21 L455.84,491.87 L456.50,491.54 L457.16,491.20 L457.82,490.85 L458.47,490.51 L459.13,490.17 L459.78,489.82 L460.44,489.47 L461.09,489.13 L461.74,488.78 L462.40,488.42 L463.05,488.07 L463.70,487.72 L464.35,487.36 L464.99,487.00 L465.64,486.64 L466.29,486.28 L466.93,485.92 L467.58,485.56 L468.22,485.19 L468.87,484.83 L469.51,484.46 L470.15,484.09 L470.79,483.72 L471.43,483.35 L472.07,482.98 L472.71,482.60 L473.35,482.23 L473.99,481.85 L474.62,481.47 L475.26,481.09 L475.89,480.71 L476.53,480.32 L477.16,479.94 L477.79,479.55 L478.42,479.17 L479.05,478.78 L479.68,478.39 L480.31,477.99 L480.93,477.60 L481.56,477.21 L482.19,476.81 L482.81,476.41 L483.43,476.01 L484.06,475.61 L484.68,475.21 L485.30,474.81 L485.92,474.40 L486.54,474.00 L487.16,473.59 L487.77,473.18 L488.39,472.77 L489.00,472.36 L489.62,471.95 L490.23,471.53 L490.84,471.12 L491.46,470.70 L492.07,470.28 L492.68,469.86 L493.28,469.44 L493.89,469.02 L494.50,468.59 L495.10,468.17 L495.71,467.74 L496.31,467.31 L496.91,466.88 L497.51,466.45 L498.11,466.02 L498.71,465.59 L499.31,465.15 L499.91,464.72 L500.51,464.28 L501.10,463.84 L501.70,463.40 L502.29,462.96 L502.88,462.51 L503.47,462.07 L504.06,461.62 L504.65,461.17 L505.24,460.73 L505.83,460.28 L506.41,459.82 L507.00,459.37 L507.58,458.92 L508.16,458.46 L508.74,458.00 L509.33,457.55 L509.90,457.09 L510.48,456.63 L511.06,456.16 L511.64,455.70 L512.21,455.23 L512.78,454.77 L513.36,454.30 L513.93,453.83 L514.50,453.36 L515.07,452.89 L515.64,452.42 L516.20,451.94 L516.77,451.47 L517.34,450.99 L517.90,450.51 L518.46,450.03 L519.02,449.55 L519.58,449.07 L520.14,448.59 L520.70,448.10 L521.26,447.61 L521.81,447.13 L522.37,446.64 L522.92,446.15 L523.47,445.66 L524.02,445.16 L524.57,444.67 L525.12,444.17 L525.67,443.68 L526.21,443.18 L526.76,442.68 L527.30,442.18 L527.84,441.68 L528.38,441.17 L528.92,440.67 L529.46,440.16 L530.00,439.66 L530.54,439.15 L531.07,438.64 L531.61,438.13 L532.14,437.61 L532.67,437.10 L533.20,436.59 L533.73,436.07 L534.25,435.55 L534.78,435.03 L535.31,434.51 L535.83,433.99 L536.35,433.47 L536.87,432.95 L537.39,432.42 L537.91,431.89 L538.43,431.37 L538.94,430.84 L539.46,430.31 L539.97,429.78 L540.48,429.24 L540.99,428.71 L541.50,428.17 L542.01,427.64 L542.52,427.10 L543.02,426.56 L543.53,426.02 L544.03,425.48 L544.53,424.94 L545.03,424.39 L545.53,423.85 L546.02,423.30 L546.52,422.75 L547.01,422.20 L547.51,421.65 L548.00,421.10 L548.49,420.55 L548.98,420.00 L549.46,419.44 L549.95,418.88 L550.43,418.33 L550.92,417.77 L551.40,417.21 L551.88,416.65 L552.36,416.08 L552.84,415.52 L553.31,414.96 L553.79,414.39 L554.26,413.82 L554.73,413.25 L555.20,412.68 L555.67,412.11 L556.14,411.54 L556.60,410.97 L557.07,410.40 L557.53,409.82 L557.99,409.24 L558.45,408.67 L558.91,408.09 L559.37,407.51 L559.82,406.93 L560.28,406.34 L560.73,405.76 L561.18,405.17 L561.63,404.59 L562.08,404.00 L562.52,403.41 L562.97,402.82 L563.41,402.23 L563.85,401.64 L564.29,401.05 L564.73,400.46 L565.17,399.86 L565.60,399.27 L566.04,398.67 L566.47,398.07 L566.90,397.47 L567.33,396.87 L567.76,396.27 L568.18,395.67 L568.61,395.06 L569.03,394.46 L569.45,393.85 L569.87,393.24 L570.29,392.64 L570.70,392.03 L571.12,391.42 L571.53,390.81 L571.94,390.19 L572.35,389.58 L572.76,388.96 L573.17,388.35 L573.57,387.73 L573.97,387.11 L574.38,386.50 L574.77,385.88 L575.17,385.25 L575.57,384.63 L575.96,384.01 L576.36,383.38 L576.75,382.76 L577.14,382.13 L577.53,381.51 L577.91,380.88 L578.30,380.25 L578.68,379.62 L579.06,378.99 L579.44,378.35 L579.82,377.72 L580.19,377.09 L580.57,376.45 L580.94,375.81 L581.31,375.18 L581.68,374.54 L582.05,373.90 L582.41,373.26 L582.78,372.62 L583.14,371.97 L583.50,371.33 L583.86,370.68 L584.21,370.04 L584.57,369.39 L584.92,368.74 L585.27,368.10 L585.62,367.45 L585.97,366.80 L586.31,366.14 L586.66,365.49 L587.00,364.84 L587.34,364.18 L587.68,363.53 L588.02,362.87 L588.35,362.21 L588.68,361.56 L589.01,360.90 L589.34,360.24 L589.67,359.58 L590.00,358.91 L590.32,358.25 L590.64,357.59 L590.96,356.92 L591.28,356.26 L591.60,355.59 L591.91,354.92 L592.22,354.25 L592.53,353.58 L592.84,352.91 L593.15,352.24 L593.46,351.57 L593.76,350.90 L594.06,350.22 L594.36,349.55 L594.66,348.87 L594.96,348.20 L595.25,347.52 L595.54,346.84 L595.83,346.16 L596.12,345.48 L596.41,344.80 L596.70,344.12 L596.98,343.44 L597.26,342.76 L597.54,342.07 L597.82,341.39 L598.10,340.71 L598.38,340.02 L598.65,339.33 L598.92,338.65 L599.19,337.96 L599.46,337.27 L599.73,336.58 L599.99,335.89 L600.25,335.20 L600.52,334.51 L600.78,333.82 L601.03,333.12 L601.29,332.43 L601.55,331.73 L601.80,331.04 L602.05,330.34 L602.30,329.65 L602.55,328.95 L602.80,328.25 L603.04,327.55 L603.29,326.86 L603.53,326.16 L603.77,325.46 L604.01,324.76 L604.24,324.05 L604.48,323.35 L604.71,322.65 L604.94,321.95 L605.17,321.24 L605.40,320.54 L605.63,319.83 L605.86,319.13 L606.08,318.42 L606.30,317.72 L606.52,317.01 L606.74,316.30 L606.96,315.59 L607.18,314.89 L607.39,314.18 L607.61,313.47 L607.82,312.76 L608.03,312.05 L608.24,311.34 L608.44,310.63 L608.65,309.91 L608.85,309.20 L609.06,308.49 L609.26,307.78 L609.46,307.06 L609.65,306.35 L609.85,305.63 L610.04,304.92 L610.24,304.20 L610.43,303.49 L610.62,302.77 L610.81,302.05 L611.00,301.34 L611.18,300.62 L611.37,299.90 L611.55,299.18 L611.73,298.47 L611.91,297.75 L612.09,297.03 L612.27,296.31 L612.45,295.59 L612.62,294.87 L612.79,294.15 L612.96,293.43 L613.13,292.71 L613.30,291.99 L613.47,291.26 L613.64,290.54 L613.80,289.82 L613.96,289.10 L614.13,288.37 L614.29,287.65 L614.45,286.93 L614.60,286.20 L614.76,285.48 L614.92,284.76 L615.07,284.03 L615.22,283.31 L615.37,282.58 L615.52,281.86 L615.67,281.13 L615.82,280.41 L615.96,279.68 L616.11,278.96 L616.25,278.23 L616.39,277.51 L616.53,276.78 L616.67,276.05 L616.81,275.33 L616.94,274.60 L617.08,273.87 L617.21,273.15 L617.35,272.42 L617.48,271.69 L617.61,270.97 L617.74,270.24 L617.86,269.51 L617.99,268.78 L618.12,268.05 L618.24,267.33 L618.36,266.60 L618.48,265.87 L618.60,265.14 L618.72,264.41 L618.84,263.68 L618.96,262.95 L619.07,262.22 L619.19,261.49 L619.30,260.76 L619.41,260.03 L619.52,259.30 L619.63,258.57 L619.74,257.84 L619.85,257.11 L619.96,256.38 L620.06,255.65 L620.17,254.92 L620.27,254.19 L620.37,253.46 L620.47,252.73 L620.57,252.00 L620.67,251.27 L620.77,250.53 L620.86,249.80 L620.96,249.07 L621.06,248.34 L621.15,247.61 L621.24,246.87 L621.33,246.14 L621.42,245.41 L621.51,244.68 L621.60,243.94 L621.69,243.21 L621.77,242.48 L621.86,241.74 L621.94,241.01 L622.03,240.28 L622.11,239.54 L622.19,238.81 L622.27,238.08 L622.35,237.34 L622.43,236.61 L622.51,235.87 L622.59,235.14 L622.66,234.41 L622.74,233.67 L622.81,232.94 L622.88,232.20 L622.96,231.47 L623.03,230.73 L623.10,230.00 L623.17,229.26 L623.24,228.53 L623.30,227.79 L623.37,227.06 L623.44,226.32 L623.50,225.59 L623.57,224.85 L623.63,224.12 L623.69,223.38 L623.76,222.64 L623.82,221.91 L623.88,221.17 L623.94,220.44 L624.00,219.70 L624.05,218.96 L624.11,218.23 L624.17,217.49 L624.22,216.75 L624.28,216.02 L624.33,215.28 L624.39,214.54 L624.44,213.81 L624.49,213.07 L624.54,212.33 L624.60,211.59 L624.65,210.86 L624.69,210.12 L624.74,209.38 L624.79,208.65 L624.84,207.91 L624.88,207.17 L624.93,206.43 L624.98,205.70 L625.02,204.96 L625.06,204.22 L625.11,203.48 L625.15,202.74 L625.19,202.01 L625.23,201.27 L625.27,200.53 L625.31,199.79 L625.35,199.05 L625.39,198.32 L625.43,197.58 L625.47,196.84 L625.51,196.10 L625.54,195.36 L625.58,194.62 L625.62,193.88 L625.65,193.15 L625.69,192.41 L625.72,191.67 L625.75,190.93 L625.79,190.19 L625.82,189.45 L625.85,188.71 L625.88,187.97 L625.91,187.24 L625.94,186.50 L625.97,185.76 L626.00,185.02 L626.03,184.28 L626.06,183.54 L626.09,182.80 L626.12,182.06 L626.14,181.32 L626.17,180.58 L626.20,179.85 L626.22,179.11 L626.25,178.37 L626.27,177.63 L626.30,176.89 L626.32,176.15 L626.35,175.41 L626.37,174.67 L626.39,173.93 L626.42,173.19 L626.44,172.45 L626.46,171.71 L626.48,170.97 L626.50,170.23 L626.52,169.49 L626.54,168.76 L626.57,168.02 L626.59,167.28 L626.61,166.54 L626.62,165.80 L626.64,165.06 L626.66,164.32 L626.68,163.58 L626.70,162.84 L626.72,162.10 L626.74,161.36 L626.75,160.62 L626.77,159.88 L626.79,159.14 L626.81,158.40 L626.82,157.66 L626.84,156.92 L626.85,156.19 L626.87,155.45 L626.89,154.71 L626.90,153.97 L626.92,153.23 L626.93,152.49 L626.95,151.75 L626.96,151.01 L626.98,150.27 L626.99,149.53 L627.01,148.79 L627.02,148.05 L627.04,147.31 L627.05,146.58 L627.06,145.84 L627.08,145.10 L627.09,144.36 L627.10,143.62 L627.12,142.88 L627.13,142.14 L627.14,141.40 L627.16,140.66 L627.17,139.92 L627.18,139.19 L627.19,138.45 L627.21,137.71 L627.22,136.97 L627.23,136.23 L627.24,135.49 L627.25,134.75 L627.27,134.01 L627.28,133.28 L627.29,132.54 L627.30,131.80 L627.31,131.06 L627.32,130.32 L627.33,129.58 L627.34,128.84 L627.35,128.10 L627.37,127.37 L627.38,126.63 L627.39,125.89 L627.40,125.15 L627.41,124.41 L627.42,123.67 L627.43,122.93 L627.44,122.20 L627.45,121.46 L627.45,120.72 L627.46,119.98 L627.47,119.24 L627.48,118.50 L627.49,117.76 L627.50,117.03 L627.51,116.29 L627.52,115.55 L627.53,114.81 L627.53,114.07 L627.54,113.33 L627.55,112.60 L627.56,111.86 L627.57,111.12 L627.57,110.38 L627.58,109.64 L627.59,108.90 L627.60,108.16 L627.60,107.43 L627.61,106.69 L627.62,105.95 L627.63,105.21 L627.63,104.47 L627.64,103.73 L627.65,103.00 L627.65,102.26 L627.66,101.52 L627.67,100.78 L627.67,100.04 L627.68,99.30 L627.69,98.57 L627.69,97.83 L627.70,97.09 L627.70,96.35 L627.71,95.61 L627.72,94.87 L627.72,94.14 L627.73,93.40 L627.73,92.66 L627.74,91.92 L627.74,91.18 L627.75,90.44 L627.75,89.71 L627.76,88.97 L627.77,88.23 L627.77,87.49 L627.77,86.75 L627.78,86.01 L627.78,85.28 L627.79,84.54 L627.79,83.80 L627.80,83.06 L627.80,82.32 L627.81,81.58 L627.81,80.85 L627.82,80.11 L627.82,79.37 L627.82,78.63 L627.83,77.89 L627.83,77.15 L627.84,76.41 L627.84,75.68 L627.84,74.94 L627.85,74.20 L627.85,73.46 L627.85,72.72 L627.86,71.98 L627.86,71.25 L627.86,70.51 L627.87,69.77 L627.87,69.03 L627.87,68.29 L627.88,67.55 L627.88,66.81 L627.88,66.07 L627.89,65.34 L627.89,64.60 L627.89,63.86 L627.90,63.12 L627.90,62.38 L627.90,61.64 L627.90,60.90 L627.91,60.17 L627.91,59.43 L627.91,58.69 L627.91,57.95 L627.92,57.21 L627.92,56.47 L627.92,55.73 L627.92,54.99 L627.93,54.25 L627.93,53.52 L627.93,52.78 L627.93,52.04 L627.93,51.30 L627.94,50.56 L627.94,49.82 L627.94,49.08 L627.94,48.34 L627.94,47.60 L627.95,46.86 L627.95,46.13 L627.95,45.39 L627.95,44.65 L627.95,43.91 L627.96,43.17 L627.96,42.43 L627.96,41.69 L627.96,40.95 L627.96,40.21 L627.96,39.47 L627.97,38.73 L627.97,37.99 L627.97,37.25 L627.97,36.52 L627.97,35.78 L627.97,35.04 L627.97,34.30 L627.98,33.56 L627.98,32.82 L627.98,32.08 L627.98,31.34 L627.98,30.60 L627.98,29.86 L627.98,29.12 L627.99,28.38 L627.99,27.64 L627.99,26.90 L627.99,26.16 L627.99,25.42 L627.99,24.68 L627.99,23.94 L627.99,23.20 L628.00,22.46 L628.00,21.72 L628.00,20.98 L628.00,20.24 L628.00,19.50" fill="none" stroke="#ff1010" stroke-width="2.0" stroke-linejoin="round"/>
<g stroke="#000" stroke-width="2.8" stroke-dasharray="9,8.55" fill="none">
<line x1="112.45" y1="19.5" x2="628.0" y2="534.6"/>
<line x1="112.45" y1="534.6" x2="628.0" y2="19.5"/>
</g>
<circle cx="531.3" cy="438.3" r="6.6" fill="#000"/>
<text transform="translate(108,544.4) scale(1.08,1)" text-anchor="end">0%</text><text transform="translate(108,441.4) scale(1.08,1)" text-anchor="end">20%</text><text transform="translate(108,338.4) scale(1.08,1)" text-anchor="end">40%</text><text transform="translate(108,235.3) scale(1.08,1)" text-anchor="end">60%</text><text transform="translate(108,132.3) scale(1.08,1)" text-anchor="end">80%</text><text transform="translate(108,29.3) scale(1.08,1)" text-anchor="end">100%</text>
<text transform="translate(112.5,563) scale(1.08,1)" text-anchor="middle">0%</text><text transform="translate(215.6,563) scale(1.08,1)" text-anchor="middle">20%</text><text transform="translate(318.7,563) scale(1.08,1)" text-anchor="middle">40%</text><text transform="translate(421.8,563) scale(1.08,1)" text-anchor="middle">60%</text><text transform="translate(524.9,563) scale(1.08,1)" text-anchor="middle">80%</text><text transform="translate(628.0,563) scale(1.08,1)" text-anchor="middle">100%</text>
<text transform="translate(241.6,442.0) scale(1.05,1)" style="font-size:25px">G = 80.7%</text>
<text transform="translate(553.2,447.9) scale(1.05,1)" style="font-size:25px">P = 18.7%</text>
<text transform="translate(370.0,590.0) scale(1.052,1)" text-anchor="middle" style="font-size:25px">Share of nodes with smallest degrees</text>
<text transform="translate(28,277.7) rotate(-90) scale(1.057,1)" text-anchor="middle" style="font-size:25px">Share of edges</text>
</svg>
</body></html>
